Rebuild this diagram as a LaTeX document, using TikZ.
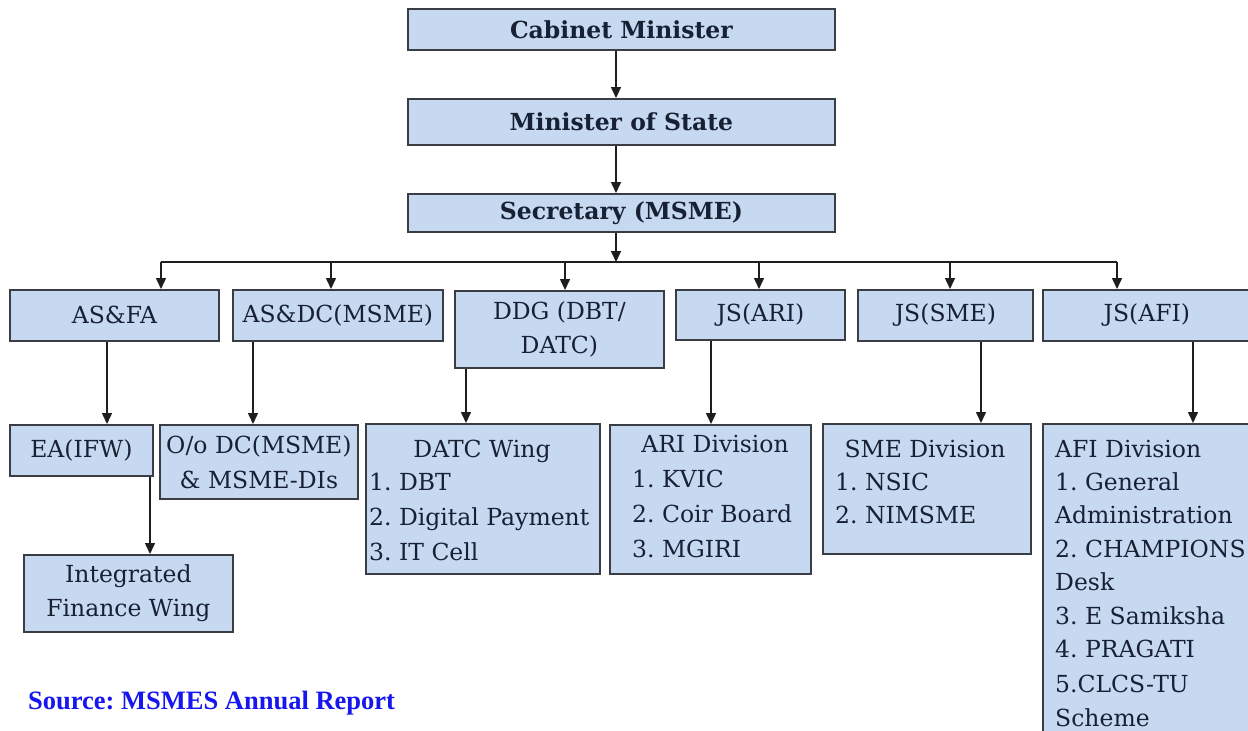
\documentclass[tikz,border=0pt]{standalone}
\usepackage{fontspec}
\setmainfont{DejaVu Serif}
\newfontfamily\srcfont{Liberation Serif}
\usetikzlibrary{arrows.meta}
\definecolor{boxfill}{RGB}{198,217,240}
\definecolor{boxline}{RGB}{58,62,68}
\definecolor{boxtext}{RGB}{24,32,52}
\definecolor{srcblue}{RGB}{22,22,238}
\definecolor{arrline}{RGB}{30,30,30}
\newcommand\boxfont{\fontsize{23.5}{34}\selectfont}
\frenchspacing
\begin{document}
\begin{tikzpicture}[x=1pt,y=-1pt,
  orgbox/.style={draw=boxline, fill=boxfill, line width=1.8pt, inner sep=0pt,
    anchor=north west, text=boxtext, font=\boxfont, align=center},
  sz/.style 2 args={minimum width=#1, minimum height=#2},
  boldbox/.style={orgbox, font=\boxfont\bfseries},
  lst/.style={anchor=base west, inner sep=0pt, text=boxtext, font=\boxfont},
  ttl/.style={anchor=base, inner sep=0pt, text=boxtext, font=\boxfont},
  conn/.style={draw=arrline, line width=1.5pt},
  arr/.style={conn, -{Triangle[length=11pt,width=10pt]}}]
\useasboundingbox (0,0) rectangle (1248,731);
\clip (0,0) rectangle (1248,731);
\fill[white] (0,0) rectangle (1248,731);

% top chain
\node[boldbox, sz={427}{41}] (cab) at (407,8) {Cabinet Minister};
\node[boldbox, sz={427}{46}] (mos) at (407,98) {Minister of State};
\node[boldbox, sz={427}{38}] (sec) at (407,193) {Secretary (MSME)};

% second row
\node[orgbox, sz={209}{51}] (asfa) at (9,289) {AS\&FA};
\node[orgbox, sz={210}{51}] (asdc) at (232,289) {AS\&DC(MSME)};
\node[orgbox, sz={209}{77}] (ddg) at (454,290) {DDG (DBT/\\DATC)};
\node[orgbox, sz={169}{50}] (jsari) at (675,289) {JS(ARI)};
\node[orgbox, sz={175}{51}] (jssme) at (857,289) {JS(SME)};
\node[orgbox, sz={208}{51}] (jsafi) at (1042,289) {JS(AFI)};

% third row
\node[orgbox, sz={143}{51}] (ea) at (9,424) {EA(IFW)};
\node[orgbox, sz={209}{77}] (ifw) at (23,554) {Integrated\\Finance Wing};
\node[orgbox, sz={198}{74}, font=\fontsize{23.5}{35}\selectfont] (odc) at (159,424) {O/o DC(MSME)\\\& MSME-DIs};
\node[orgbox, sz={234}{150}] (datc) at (365,423) {};
\node[orgbox, sz={201}{149}] (ari) at (609,424) {};
\node[orgbox, sz={208}{130}] (sme) at (822,423) {};
\node[orgbox, sz={215}{340}] (afi) at (1042,423) {};

% list texts
\node[ttl] (datct) at (482,457) {DATC Wing};
\node[lst] (datc1) at (369,490) {1. DBT};
\node[lst] (datc2) at (369,525) {2. Digital Payment};
\node[lst] (datc3) at (369,560) {3. IT Cell};

\node[ttl] (arit) at (715,452) {ARI Division};
\node[lst] (ari1) at (632,487) {1. KVIC};
\node[lst] (ari2) at (632,522) {2. Coir Board};
\node[lst] (ari3) at (632,557) {3. MGIRI};

\node[ttl] (smet) at (925,457) {SME Division};
\node[lst] (sme1) at (835,490) {1. NSIC};
\node[lst] (sme2) at (835,523) {2. NIMSME};

\node[lst] (afit) at (1055,457) {AFI Division};
\node[lst] (afi1) at (1055,490) {1. General};
\node[lst] (afi2) at (1055,523) {Administration};
\node[lst] (afi3) at (1055,557) {2. CHAMPIONS};
\node[lst] (afi4) at (1055,590) {Desk};
\node[lst] (afi5) at (1055,624) {3. E Samiksha};
\node[lst] (afi6) at (1055,657) {4. PRAGATI};
\node[lst] (afi7) at (1055,692) {5.CLCS-TU};
\node[lst] (afi8) at (1055,726) {Scheme};

% source
\node[anchor=base west, inner sep=0pt, text=srcblue,
  font=\srcfont\bfseries\fontsize{26.5}{30}\selectfont] (src) at (28,709) {Source: MSMES Annual Report};

% connectors top
\coordinate (cx) at (616,0);
\draw[arr] (cx |- cab.south) -- (cx |- mos.north);
\draw[arr] (cx |- mos.south) -- (cx |- sec.north);
\coordinate (bj) at (616,262);
\draw[arr] (bj |- sec.south) -- (bj);

% bus
\coordinate (b1) at (161,262);
\coordinate (b2) at (331,262);
\coordinate (b3) at (565,262);
\coordinate (b4) at (759,262);
\coordinate (b5) at (950,262);
\coordinate (b6) at (1117,262);
\draw[conn] (b1) -- (b6);
\draw[arr] (b1) -- (b1 |- asfa.north);
\draw[arr] (b2) -- (b2 |- asdc.north);
\draw[arr] (b3) -- (b3 |- ddg.north);
\draw[arr] (b4) -- (b4 |- jsari.north);
\draw[arr] (b5) -- (b5 |- jssme.north);
\draw[arr] (b6) -- (b6 |- jsafi.north);

% lower connectors
\coordinate (c1) at (107,0);
\coordinate (c2) at (253,0);
\coordinate (c3) at (466,0);
\coordinate (c4) at (711,0);
\coordinate (c5) at (981,0);
\coordinate (c6) at (1193,0);
\coordinate (c7) at (150,0);
\draw[arr] (c1 |- asfa.south) -- (c1 |- ea.north);
\draw[arr] (c2 |- asdc.south) -- (c2 |- odc.north);
\draw[arr] (c3 |- ddg.south) -- (c3 |- datc.north);
\draw[arr] (c4 |- jsari.south) -- (c4 |- ari.north);
\draw[arr] (c5 |- jssme.south) -- (c5 |- sme.north);
\draw[arr] (c6 |- jsafi.south) -- (c6 |- afi.north);
\draw[arr] (c7 |- ea.south) -- (c7 |- ifw.north);
\end{tikzpicture}
\end{document}
